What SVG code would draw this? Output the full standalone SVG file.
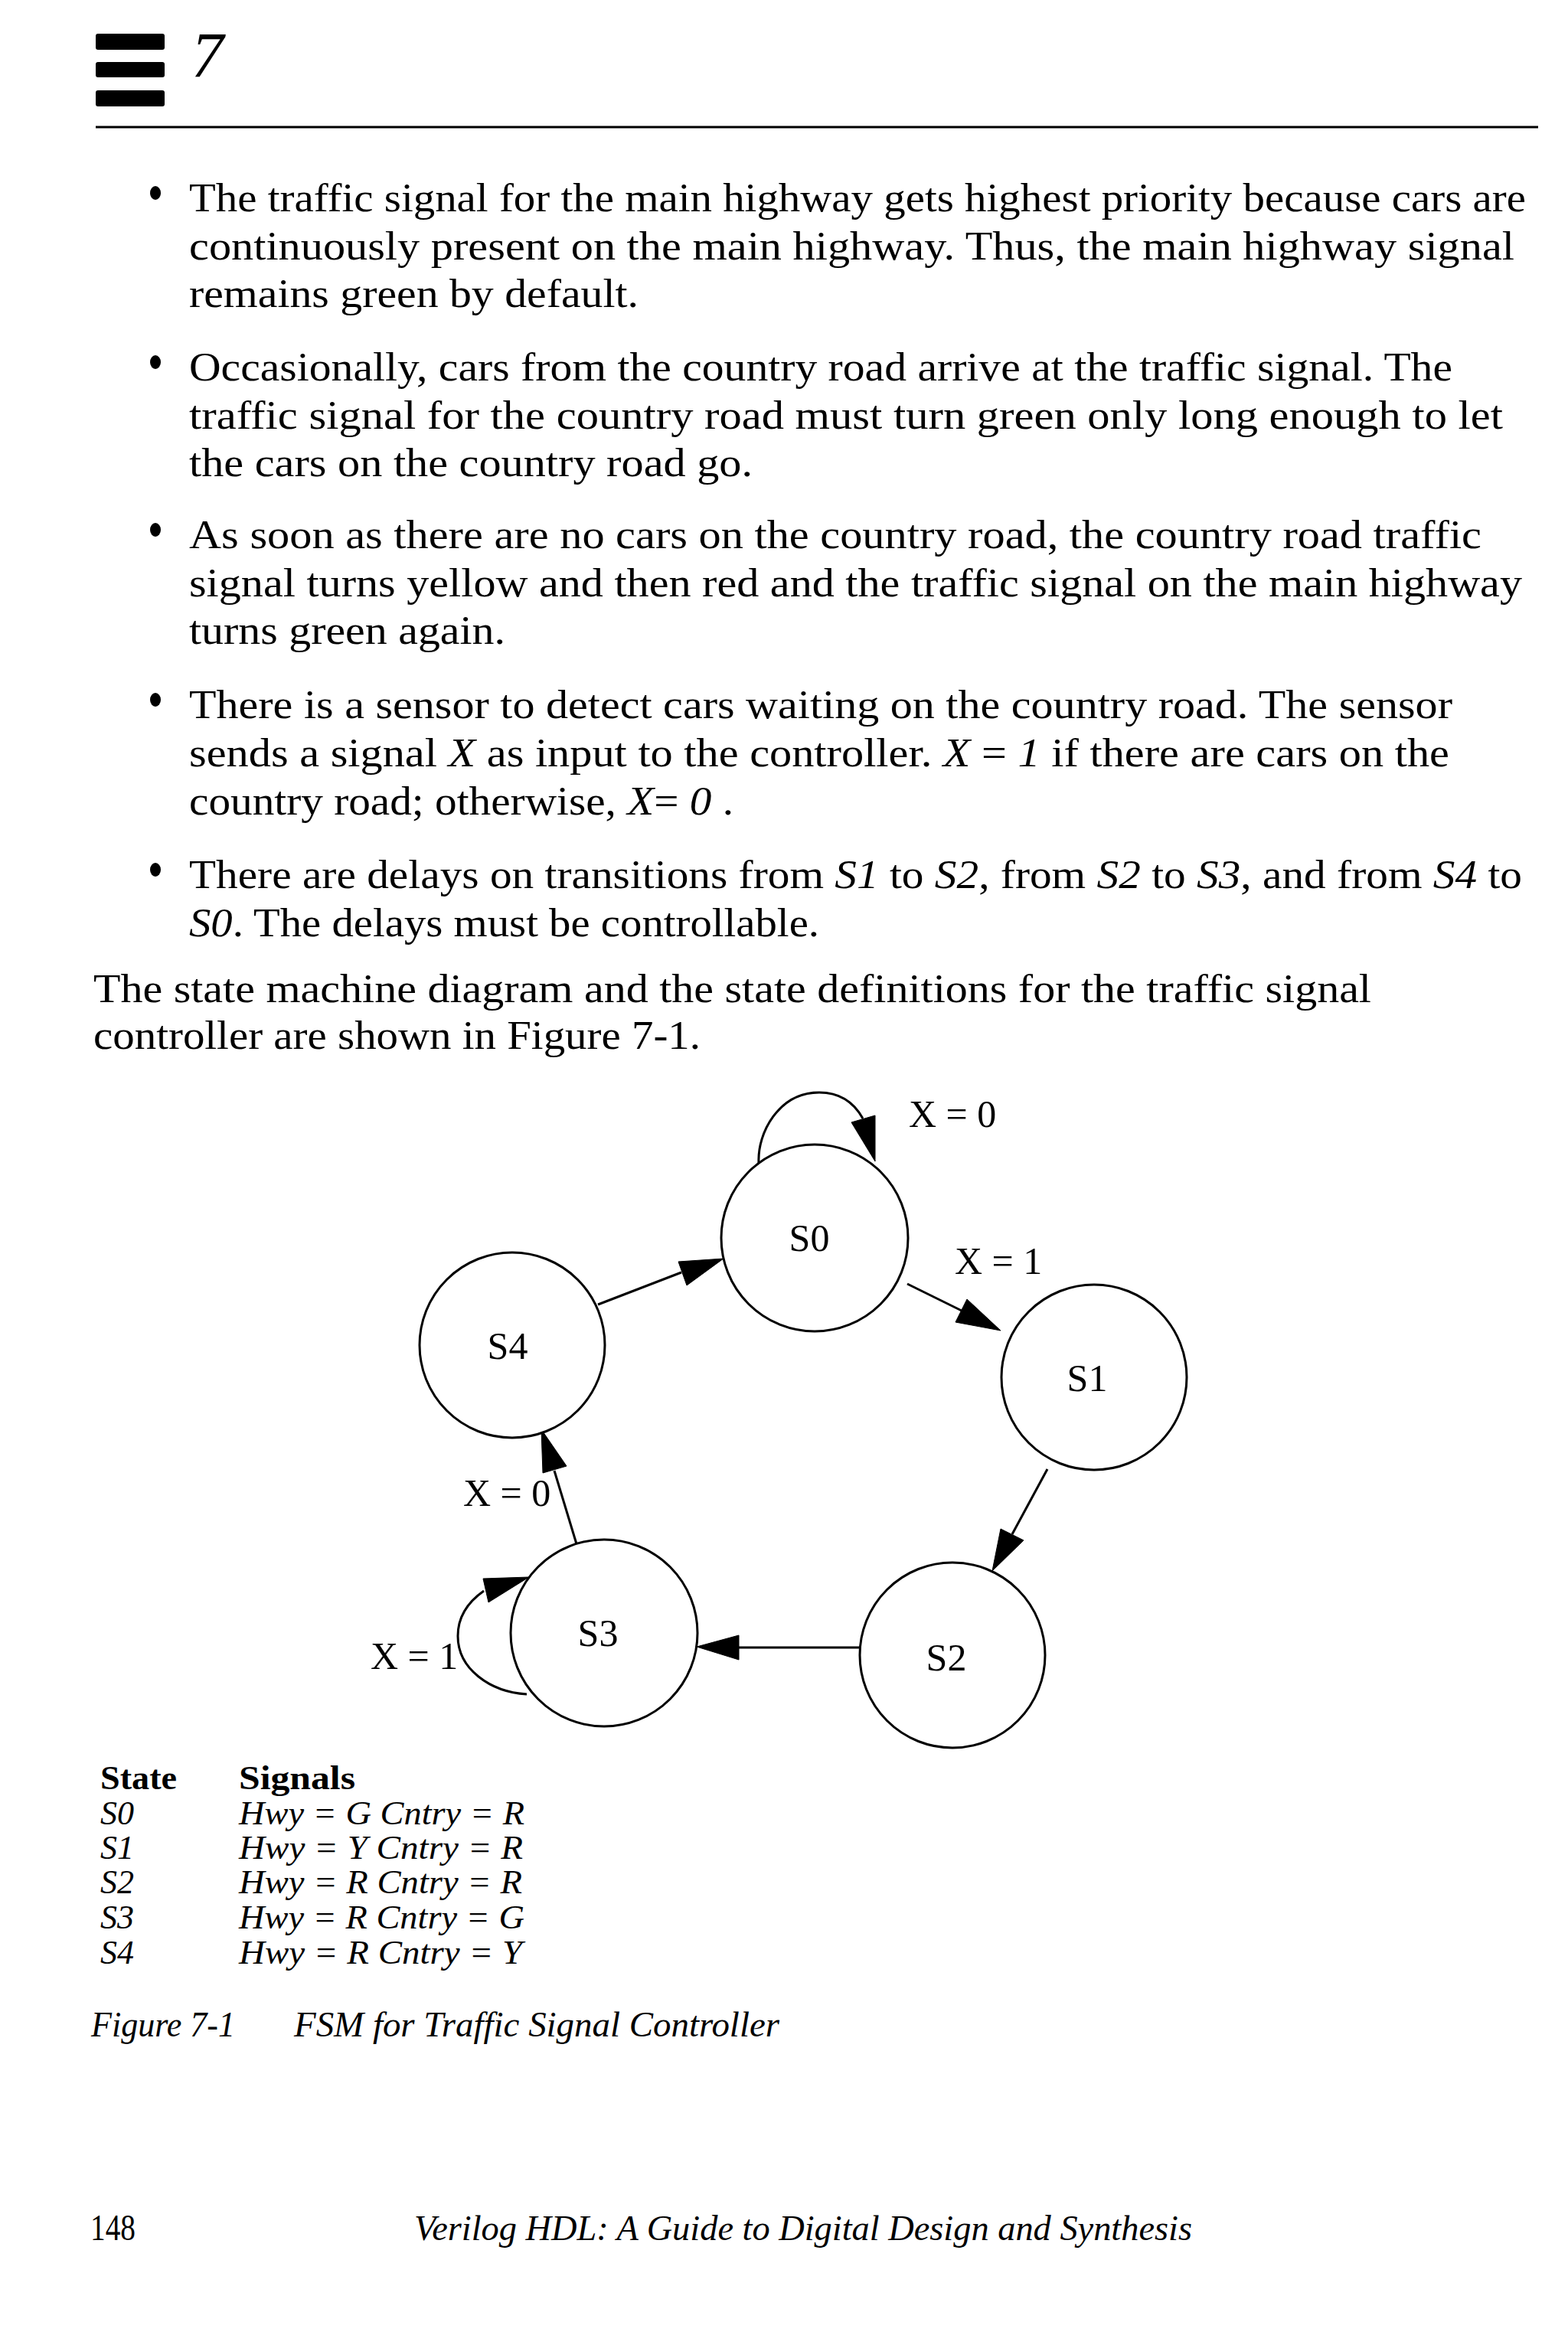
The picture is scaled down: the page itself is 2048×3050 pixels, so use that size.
<svg xmlns="http://www.w3.org/2000/svg" width="2048" height="3050" viewBox="0 0 2048 3050">
<style>
.body{font-family:"Liberation Serif",serif;font-size:53px;fill:#000}
.it{font-style:italic}
.node{fill:#fff;stroke:#000;stroke-width:3}
.lbl{font-family:"Liberation Serif",serif;font-size:50px;fill:#000}
.edge{fill:none;stroke:#000;stroke-width:3}
.head{fill:#000;stroke:#000;stroke-width:1}
.tbl{font-family:"Liberation Serif",serif;font-size:44px;fill:#000}
.cap{font-family:"Liberation Serif",serif;font-size:46px;font-style:italic;fill:#000}
</style>
<rect width="2048" height="3050" fill="#fff"/>
<g id="header">
<rect x="125" y="44" width="90" height="21" rx="3"/>
<rect x="125" y="81" width="90" height="20" rx="3"/>
<rect x="125" y="118" width="90" height="21" rx="3"/>
<text x="250" y="101" font-family="Liberation Serif,serif" font-size="84" font-style="italic">7</text>
<line x1="125" y1="166" x2="2009" y2="166" stroke="#000" stroke-width="3"/>
</g>
<g id="bullets">
<ellipse cx="203" cy="252" rx="7" ry="9"/>
<ellipse cx="203" cy="473" rx="7" ry="9"/>
<ellipse cx="203" cy="692" rx="7" ry="9"/>
<ellipse cx="203" cy="914" rx="7" ry="9"/>
<ellipse cx="203" cy="1136" rx="7" ry="9"/>
</g>
<g id="bodytext" class="body">
<text x="247" y="276" textLength="1746" lengthAdjust="spacingAndGlyphs">The traffic signal for the main highway gets highest priority because cars are</text>
<text x="247" y="339" textLength="1731" lengthAdjust="spacingAndGlyphs">continuously present on the main highway. Thus, the main highway signal</text>
<text x="247" y="401" textLength="587" lengthAdjust="spacingAndGlyphs">remains green by default.</text>
<text x="247" y="497" textLength="1650" lengthAdjust="spacingAndGlyphs">Occasionally, cars from the country road arrive at the traffic signal. The</text>
<text x="247" y="560" textLength="1716" lengthAdjust="spacingAndGlyphs">traffic signal for the country road must turn green only long enough to let</text>
<text x="247" y="622" textLength="736" lengthAdjust="spacingAndGlyphs">the cars on the country road go.</text>
<text x="247" y="716" textLength="1688" lengthAdjust="spacingAndGlyphs">As soon as there are no cars on the country road, the country road traffic</text>
<text x="247" y="779" textLength="1741" lengthAdjust="spacingAndGlyphs">signal turns yellow and then red and the traffic signal on the main highway</text>
<text x="247" y="841" textLength="413" lengthAdjust="spacingAndGlyphs">turns green again.</text>
<text x="247" y="938" textLength="1650" lengthAdjust="spacingAndGlyphs">There is a sensor to detect cars waiting on the country road. The sensor</text>
<text x="247" y="1001" textLength="1646" lengthAdjust="spacingAndGlyphs">sends a signal <tspan class="it">X</tspan> as input to the controller. <tspan class="it">X</tspan> = <tspan class="it">1</tspan> if there are cars on the</text>
<text x="247" y="1064" textLength="711" lengthAdjust="spacingAndGlyphs">country road; otherwise, <tspan class="it">X</tspan>= <tspan class="it">0</tspan> .</text>
<text x="247" y="1160" textLength="1741" lengthAdjust="spacingAndGlyphs">There are delays on transitions from <tspan class="it">S1</tspan> to <tspan class="it">S2</tspan>, from <tspan class="it">S2</tspan> to <tspan class="it">S3</tspan>, and from <tspan class="it">S4</tspan> to</text>
<text x="247" y="1223" textLength="823" lengthAdjust="spacingAndGlyphs"><tspan class="it">S0</tspan>. The delays must be controllable.</text>
<text x="122" y="1309" textLength="1669" lengthAdjust="spacingAndGlyphs">The state machine diagram and the state definitions for the traffic signal</text>
<text x="122" y="1370" textLength="793" lengthAdjust="spacingAndGlyphs">controller are shown in Figure 7-1.</text>
</g>
<g id="connectors">
<path class="edge" d="M991 1519 C989 1480 1017 1427 1070 1427 C1100 1427 1117 1443 1127 1461"/>
<polygon class="head" points="1112,1466 1143,1457 1143,1517"/>
<line class="edge" x1="781" y1="1704" x2="890" y2="1662"/>
<polygon class="head" points="886,1648 897,1679 945,1644"/>
<line class="edge" x1="1185" y1="1677" x2="1256" y2="1712"/>
<polygon class="head" points="1263,1697 1248,1727 1307,1738"/>
<line class="edge" x1="1368" y1="1919" x2="1322" y2="2004"/>
<polygon class="head" points="1307,1997 1337,2012 1296,2052"/>
<line class="edge" x1="1133" y1="2152" x2="965" y2="2152"/>
<polygon class="head" points="965,2136 965,2168 910,2151"/>
<line class="edge" x1="754" y1="2020" x2="724" y2="1921"/>
<polygon class="head" points="709,1924 740,1915 707,1867"/>
<path class="edge" d="M688 2213 C640 2210 598 2180 598 2137 C598 2112 612 2092 632 2078"/>
<polygon class="head" points="631,2062 691,2060 638,2093"/>
<text class="lbl" x="1187" y="1472">X = 0</text>
<text class="lbl" x="1247" y="1664">X = 1</text>
<text class="lbl" x="605" y="1967">X = 0</text>
<text class="lbl" x="484" y="2180">X = 1</text>
</g>
<g id="S0"><circle class="node" cx="1064" cy="1617" r="122"/><text class="lbl" x="1057" y="1634" text-anchor="middle">S0</text></g>
<g id="S1"><circle class="node" cx="1429" cy="1799" r="121"/><text class="lbl" x="1420" y="1817" text-anchor="middle">S1</text></g>
<g id="S2"><circle class="node" cx="1244" cy="2162" r="121"/><text class="lbl" x="1236" y="2182" text-anchor="middle">S2</text></g>
<g id="S3"><circle class="node" cx="789" cy="2133" r="122"/><text class="lbl" x="781" y="2150" text-anchor="middle">S3</text></g>
<g id="S4"><circle class="node" cx="669" cy="1757" r="121"/><text class="lbl" x="663" y="1775" text-anchor="middle">S4</text></g>
<g id="table" class="tbl">
<text x="131" y="2337" font-weight="bold" textLength="100" lengthAdjust="spacingAndGlyphs">State</text>
<text x="312" y="2337" font-weight="bold" textLength="152" lengthAdjust="spacingAndGlyphs">Signals</text>
<text x="131" y="2383" class="it">S0</text><text x="312" y="2383" class="it" textLength="373" lengthAdjust="spacingAndGlyphs">Hwy = G Cntry = R</text>
<text x="131" y="2428" class="it">S1</text><text x="312" y="2428" class="it" textLength="371" lengthAdjust="spacingAndGlyphs">Hwy = Y Cntry = R</text>
<text x="131" y="2473" class="it">S2</text><text x="312" y="2473" class="it" textLength="370" lengthAdjust="spacingAndGlyphs">Hwy = R Cntry = R</text>
<text x="131" y="2519" class="it">S3</text><text x="312" y="2519" class="it" textLength="373" lengthAdjust="spacingAndGlyphs">Hwy = R Cntry = G</text>
<text x="131" y="2565" class="it">S4</text><text x="312" y="2565" class="it" textLength="370" lengthAdjust="spacingAndGlyphs">Hwy = R Cntry = Y</text>
</g>
<g id="caption" class="cap">
<text x="119" y="2660" textLength="188" lengthAdjust="spacingAndGlyphs">Figure 7-1</text>
<text x="384" y="2660" textLength="634" lengthAdjust="spacingAndGlyphs">FSM for Traffic Signal Controller</text>
</g>
<g id="footer">
<text x="118" y="2926" font-family="Liberation Serif,serif" font-size="48" textLength="59" lengthAdjust="spacingAndGlyphs">148</text>
<text x="541" y="2926" class="cap" textLength="1016" lengthAdjust="spacingAndGlyphs">Verilog HDL: A Guide to Digital Design and Synthesis</text>
</g>
</svg>
